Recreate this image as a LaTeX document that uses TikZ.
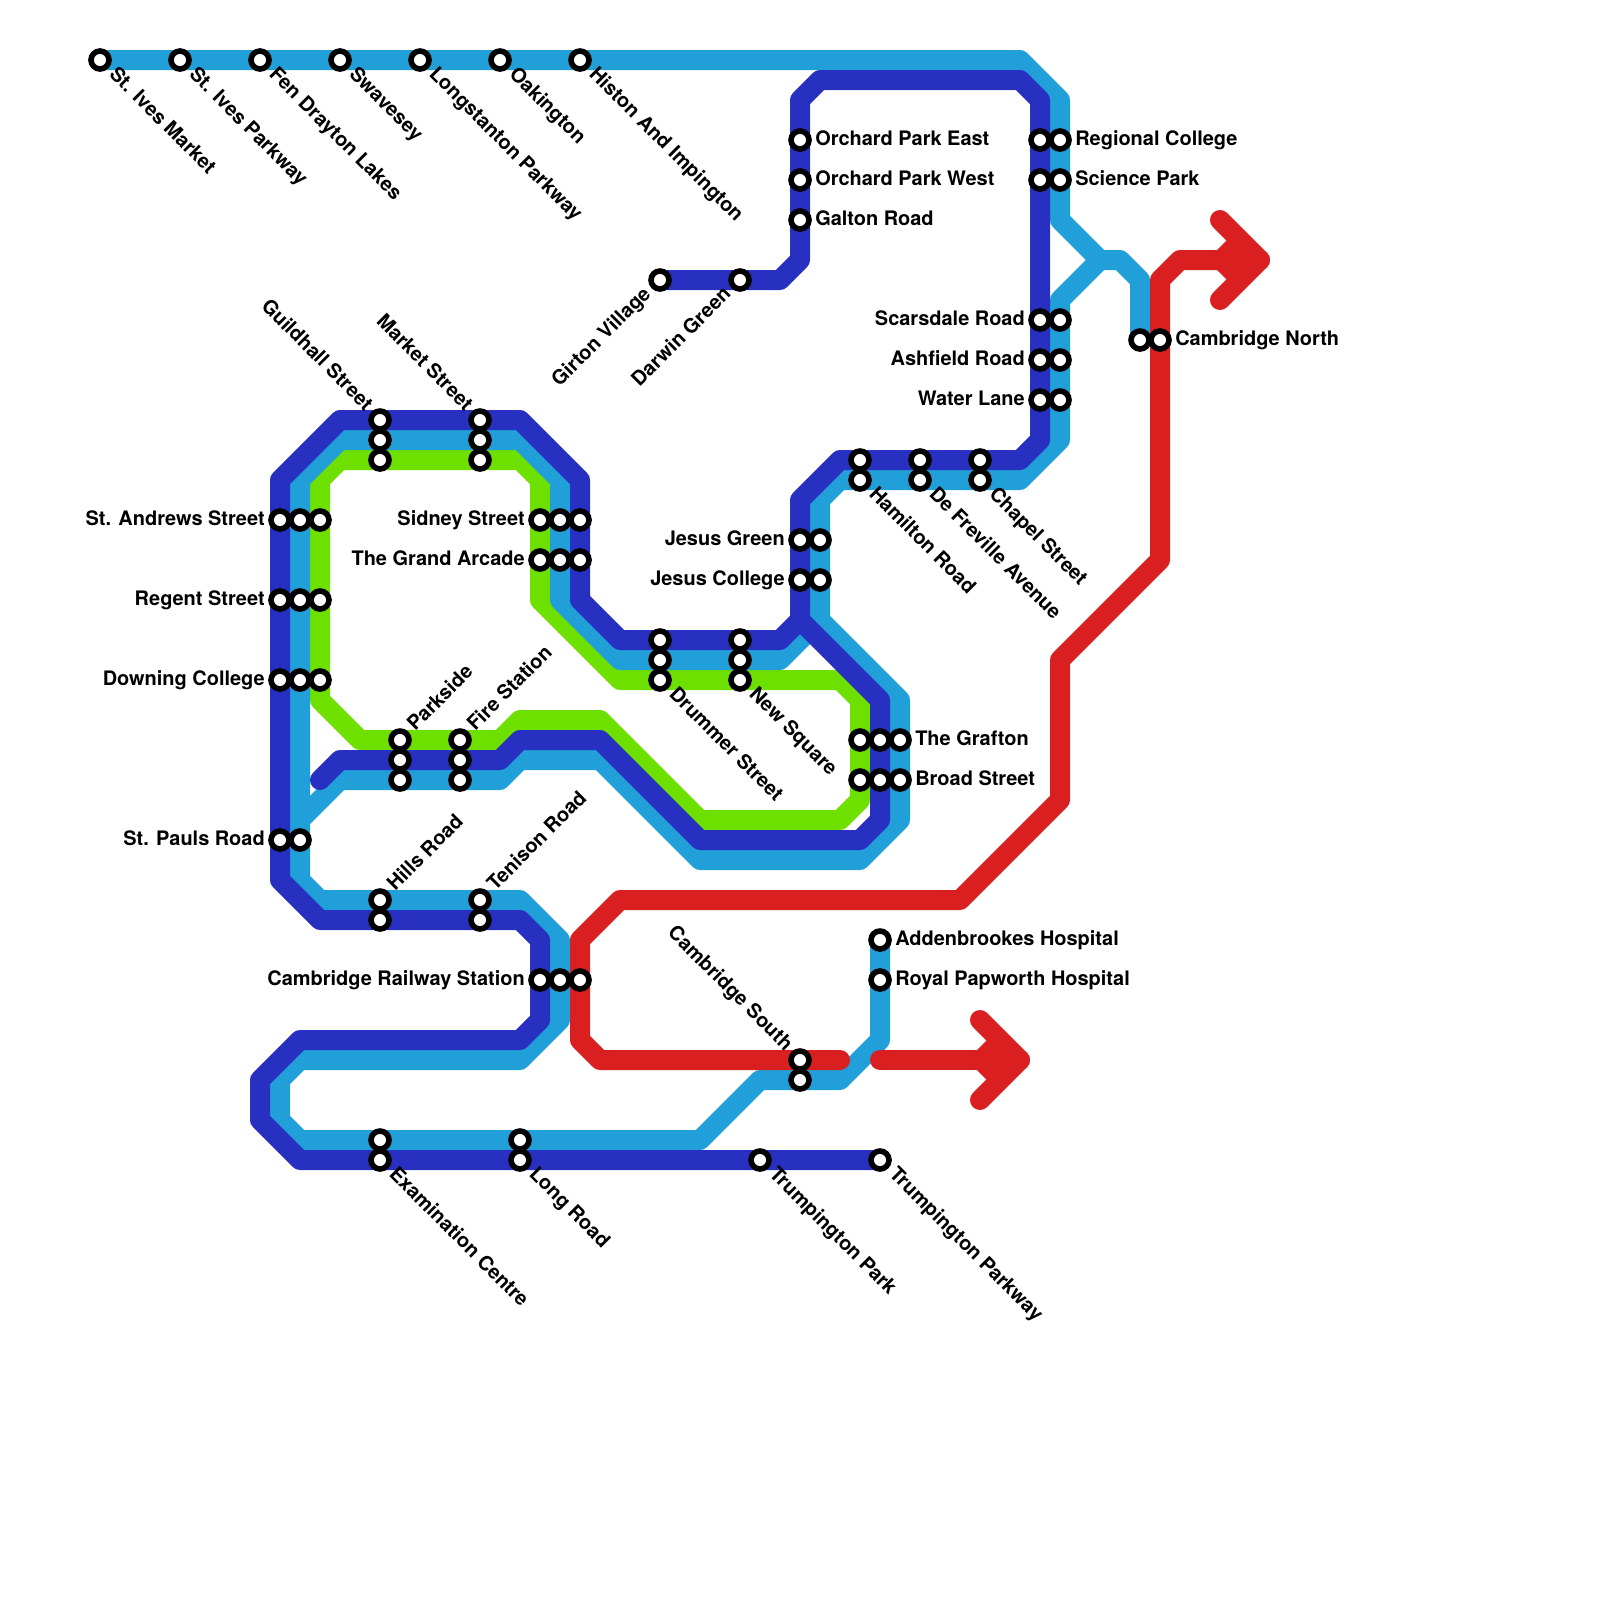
\documentclass[tikz,border=0pt]{standalone}
\usepackage{fontspec}
\setmainfont{TeX Gyre Heros}
\usepackage{tikz}
\definecolor{mapsky}{HTML}{209FD8}
\definecolor{mapnavy}{HTML}{2730C0}
\definecolor{maplime}{HTML}{6EE000}
\definecolor{mapred}{HTML}{D91F20}
\tikzset{
  route/.style={line width=0.5cm, line cap=round, line join=round},
  stop/.style={circle, draw=black, fill=white, line width=0.14cm, minimum size=0.45cm, inner sep=0pt},
  lab/.style={font=\fontsize{14.2}{14.2}\selectfont\bfseries, inner sep=0pt, text=black},
  labE/.style={lab, anchor=base west, xshift=0.375cm, yshift=-0.125cm},
  labW/.style={lab, anchor=base east, xshift=-0.375cm, yshift=-0.125cm},
  labNE/.style={lab, rotate=45, anchor=base west, xshift=0.41cm, yshift=-0.125cm},
  labSW/.style={lab, rotate=45, anchor=base east, xshift=-0.41cm, yshift=-0.125cm},
  labSE/.style={lab, rotate=-45, anchor=base west, xshift=0.41cm, yshift=-0.125cm},
  labNW/.style={lab, rotate=-45, anchor=base east, xshift=-0.41cm, yshift=-0.125cm},
}
\begin{document}
\begin{tikzpicture}[
  x=0.5cm, y=-0.5cm,
]
\useasboundingbox (0,0) rectangle (80,80);
% ---------- lines ----------
\draw[route, maplime] (17,23) -- (26,23) -- (27,24) -- (27,30) -- (31,34) -- (42,34) -- (43,35) -- (43,40) -- (42,41) -- (35,41) -- (30,36) -- (26,36) -- (25,37) -- (18,37) -- (16,35) -- (16,24) -- cycle;

\draw[route, mapsky] (5,3) -- (51,3) -- (53,5) -- (53,11) -- (55,13) -- (56,13) -- (57,14) -- (57,17);
\draw[route, mapsky] (55,13) -- (53,15) -- (53,22) -- (51,24) -- (42,24) -- (41,25) -- (41,31) -- (45,35) -- (45,41) -- (43,43) -- (35,43) -- (30,38) -- (26,38) -- (25,39) -- (17,39) -- (15,41);
\draw[route, mapsky] (41,31) -- (39,33) -- (31,33) -- (28,30) -- (28,24) -- (26,22) -- (17,22) -- (15,24) -- (15,44) -- (16,45) -- (26,45) -- (28,47) -- (28,51) -- (26,53) -- (15,53) -- (14,54) -- (14,56) -- (15,57) -- (35,57) -- (38,54) -- (42,54) -- (44,52) -- (44,47);

\draw[route, mapnavy] (33,14) -- (39,14) -- (40,13) -- (40,5) -- (41,4) -- (51,4) -- (52,5) -- (52,22) -- (51,23) -- (42,23) -- (40,25) -- (40,31) -- (39,32) -- (31,32) -- (29,30) -- (29,24) -- (26,21) -- (17,21) -- (14,24) -- (14,44) -- (16,46) -- (26,46) -- (27,47) -- (27,51) -- (26,52) -- (15,52) -- (13,54) -- (13,56) -- (15,58) -- (44,58);
\draw[route, mapnavy] (40,31) -- (44,35) -- (44,41) -- (43,42) -- (35,42) -- (30,37) -- (26,37) -- (25,38) -- (17,38) -- (16,39);

\draw[route, mapred] (42,53) -- (30,53) -- (29,52) -- (29,47) -- (31,45) -- (48,45) -- (53,40) -- (53,33) -- (58,28) -- (58,14) -- (59,13) -- (63,13);
\draw[route, mapred] (61,11) -- (63,13) -- (61,15);
\fill[mapred] (60.35,13) -- (61.7,11.65) -- (63,13) -- (61.7,14.35) -- cycle;
\draw[route, mapred] (44,53) -- (51,53);
\draw[route, mapred] (49,51) -- (51,53) -- (49,55);
\fill[mapred] (48.35,53) -- (49.7,51.65) -- (51,53) -- (49.7,54.35) -- cycle;

% ---------- stops ----------
\foreach \x/\y in {5/3, 9/3, 13/3, 17/3, 21/3, 25/3, 29/3, 40/7, 40/9, 40/11, 33/14, 37/14,
  52/7, 53/7, 52/9, 53/9, 52/16, 53/16, 52/18, 53/18, 52/20, 53/20, 57/17, 58/17,
  43/23, 43/24, 46/23, 46/24, 49/23, 49/24, 40/27, 41/27, 40/29, 41/29,
  33/32, 33/33, 33/34, 37/32, 37/33, 37/34, 43/37, 44/37, 45/37, 43/39, 44/39, 45/39,
  19/21, 19/22, 19/23, 24/21, 24/22, 24/23, 14/26, 15/26, 16/26, 14/30, 15/30, 16/30, 14/34, 15/34, 16/34,
  27/26, 28/26, 29/26, 27/28, 28/28, 29/28, 20/37, 20/38, 20/39, 23/37, 23/38, 23/39,
  14/42, 15/42, 19/45, 19/46, 24/45, 24/46, 27/49, 28/49, 29/49, 44/47, 44/49,
  40/53, 40/54, 19/57, 19/58, 26/57, 26/58, 38/58, 44/58} {
  \node[stop] (s\x-\y) at (\x,\y) {};
}

% ---------- labels ----------
\foreach \x/\y/\lab in {40/7/Orchard Park East, 40/9/Orchard Park West, 40/11/Galton Road,
  53/7/Regional College, 53/9/Science Park, 58/17/Cambridge North,
  45/37/The Grafton, 45/39/Broad Street, 44/47/Addenbrookes Hospital, 44/49/Royal Papworth Hospital} {
  \node[labE] (lab\x-\y) at (s\x-\y) {\lab};
}
\foreach \x/\y/\lab in {52/16/Scarsdale Road, 52/18/Ashfield Road, 52/20/Water Lane,
  40/27/Jesus Green, 40/29/Jesus College, 14/26/St. Andrews Street, 14/30/Regent Street,
  14/34/Downing College, 27/26/Sidney Street, 27/28/The Grand Arcade, 14/42/St. Pauls Road,
  27/49/Cambridge Railway Station} {
  \node[labW] (lab\x-\y) at (s\x-\y) {\lab};
}
\foreach \x/\y/\lab in {5/3/St. Ives Market, 9/3/St. Ives Parkway, 13/3/Fen Drayton Lakes, 17/3/Swavesey,
  21/3/Longstanton Parkway, 25/3/Oakington, 29/3/Histon And Impington,
  43/24/Hamilton Road, 46/24/De Freville Avenue, 49/24/Chapel Street,
  33/34/Drummer Street, 37/34/New Square, 19/58/Examination Centre, 26/58/Long Road,
  38/58/Trumpington Park, 44/58/Trumpington Parkway} {
  \node[labSE] (lab\x-\y) at (s\x-\y) {\lab};
}
\foreach \x/\y/\lab in {20/37/Parkside, 23/37/Fire Station, 19/45/Hills Road, 24/45/Tenison Road} {
  \node[labNE] (lab\x-\y) at (s\x-\y) {\lab};
}
\foreach \x/\y/\lab in {33/14/Girton Village, 37/14/Darwin Green} {
  \node[labSW] (lab\x-\y) at (s\x-\y) {\lab};
}
\foreach \x/\y/\lab in {19/21/Guildhall Street, 24/21/Market Street, 40/53/Cambridge South} {
  \node[labNW] (lab\x-\y) at (s\x-\y) {\lab};
}
\end{tikzpicture}
\end{document}
